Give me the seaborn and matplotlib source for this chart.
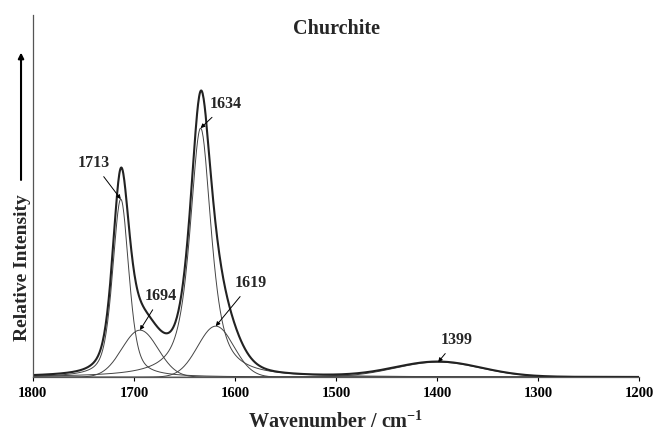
import numpy as np
import pandas as pd
import matplotlib
matplotlib.use('Agg')
import matplotlib.pyplot as plt
import seaborn as sns

# Band fit of the Churchite spectrum: centre, height, FWHM and Lorentzian fraction
band_centres = [1713, 1694, 1634, 1619, 1399]
band_heights = [178, 47, 249, 51, 15]
band_fwhm = [19, 42, 25, 42, 100]
band_lorentz = [0.5, 0.0, 0.75, 0.0, 0.0]
band_labels = ['1713', '1694', '1634', '1619', '1399']

x_ticks = [1800, 1700, 1600, 1500, 1400, 1300, 1200]

sns.set_theme(style='white')
plt.rcParams['font.family'] = ['Liberation Serif', 'DejaVu Serif']
plt.rcParams['font.weight'] = 'bold'
plt.rcParams['mathtext.fontset'] = 'custom'
plt.rcParams['mathtext.rm'] = 'Liberation Serif'
plt.rcParams['mathtext.bf'] = 'Liberation Serif:bold'


def pseudo_voigt(x, c, h, w, eta):
    g = np.exp(-4 * np.log(2) * ((x - c) / w) ** 2)
    l = 1 / (1 + 4 * ((x - c) / w) ** 2)
    return h * (eta * l + (1 - eta) * g)


wn = np.linspace(1800, 1200, 1201)
df = pd.DataFrame({'wn': wn})
for c, h, w, e, lab in zip(band_centres, band_heights, band_fwhm, band_lorentz, band_labels):
    df[lab] = pseudo_voigt(wn, c, h, w, e)
df['total'] = df[band_labels].sum(axis=1)

fig = plt.figure(figsize=(6.57, 4.33), dpi=100)
ax = fig.add_axes([0.050, 0.129, 0.923, 0.836])

for lab in band_labels:
    sns.lineplot(x='wn', y=lab, data=df, ax=ax, color='#444444', lw=0.7)
sns.lineplot(x='wn', y='total', data=df, ax=ax, color='#222222', lw=1.5)

ax.set_xlim(1800, 1200)
ax.set_ylim(0, 362)
ax.set_xticks(x_ticks)
ax.set_yticks([])
ax.tick_params(axis='x', direction='out', length=3, width=0.8, colors='black',
               labelsize=10.5, pad=4, bottom=True)
for t in ax.get_xticklabels():
    t.set_fontweight('bold')
ax.set_ylabel('')
ax.set_xlabel(r'Wavenumber / cm$^{\mathbf{-1}}$', fontsize=14.5, fontweight='bold', labelpad=8)
for s in ['top', 'right']:
    ax.spines[s].set_visible(False)
for s in ['left', 'bottom']:
    ax.spines[s].set_color('#555555')
    ax.spines[s].set_linewidth(0.9)

ax.set_title('Churchite', fontsize=14.5, fontweight='bold', y=0.925)

# peak labels with arrows
label_xy = {'1713': (1740, 214), '1694': (1673, 81), '1634': (1609, 273),
            '1619': (1584, 94), '1399': (1381, 37)}
for c, h, lab in zip(band_centres, band_heights, band_labels):
    ax.annotate(lab, xy=(c, h), xytext=label_xy[lab], ha='center', va='center',
                fontsize=11.5, fontweight='bold',
                arrowprops=dict(arrowstyle='-|>', lw=0.7, color='black',
                                mutation_scale=6, shrinkA=2, shrinkB=0))

# y label with arrow
fig.text(0.034, 0.381, 'Relative Intensity', rotation=90, ha='center', va='center',
         fontsize=14, fontweight='bold')
fig.add_artist(matplotlib.patches.FancyArrowPatch(
    (0.032, 0.578), (0.032, 0.885), transform=fig.transFigure,
    arrowstyle='-|>', mutation_scale=8, lw=1.5, color='black'))

fig.savefig('out.png', dpi=100)
